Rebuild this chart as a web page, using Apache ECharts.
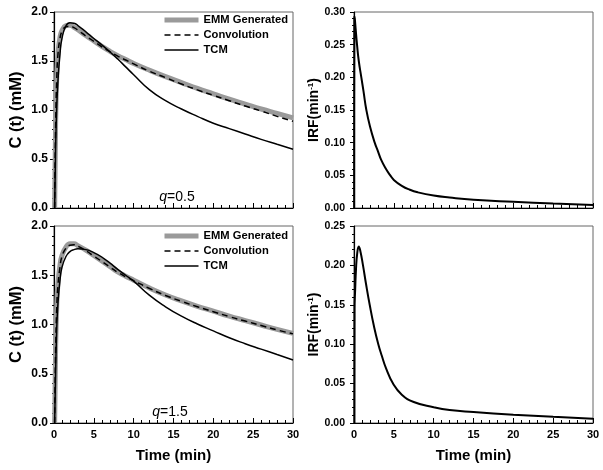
<!DOCTYPE html>
<html><head><meta charset="utf-8">
<script src="https://cdn.jsdelivr.net/npm/echarts@6/dist/echarts.min.js"></script>
<style>html,body{margin:0;padding:0;background:#fff}#c{width:603px;height:470px}</style>
</head><body><div id="c"></div>
<script>
// ---- data ----
const timeC = [0.08, 0.2, 0.35, 0.5, 0.75, 1, 1.5, 2, 2.5, 3, 4, 5, 6, 7, 8, 9, 10, 12, 14, 16, 18, 20, 22, 24, 26, 28, 30];
// q = 0.5 (top)
const emmQ05  = [0, 0.85, 1.35, 1.58, 1.74, 1.81, 1.86, 1.865, 1.845, 1.82, 1.76, 1.705, 1.65, 1.60, 1.555, 1.515, 1.475, 1.405, 1.34, 1.28, 1.22, 1.165, 1.11, 1.06, 1.01, 0.965, 0.92];
const convQ05 = [0, 0.82, 1.33, 1.57, 1.73, 1.80, 1.85, 1.855, 1.84, 1.815, 1.755, 1.70, 1.645, 1.595, 1.55, 1.51, 1.47, 1.395, 1.33, 1.265, 1.205, 1.15, 1.095, 1.04, 0.99, 0.935, 0.885];
const tcmQ05  = [0, 0.60, 1.05, 1.30, 1.57, 1.73, 1.86, 1.89, 1.885, 1.862, 1.797, 1.73, 1.665, 1.595, 1.52, 1.44, 1.36, 1.205, 1.095, 1.01, 0.935, 0.865, 0.81, 0.755, 0.70, 0.65, 0.60];
// q = 1.5 (bottom)
const emmQ15  = [0, 0.75, 1.20, 1.42, 1.60, 1.70, 1.785, 1.82, 1.82, 1.80, 1.755, 1.70, 1.645, 1.59, 1.535, 1.49, 1.45, 1.37, 1.30, 1.24, 1.185, 1.135, 1.085, 1.04, 0.995, 0.95, 0.91];
const convQ15 = [0, 0.72, 1.18, 1.40, 1.58, 1.69, 1.775, 1.805, 1.81, 1.795, 1.75, 1.695, 1.64, 1.585, 1.53, 1.485, 1.445, 1.365, 1.295, 1.235, 1.18, 1.13, 1.08, 1.035, 0.99, 0.945, 0.905];
const tcmQ15  = [0, 0.50, 0.98, 1.22, 1.45, 1.58, 1.69, 1.74, 1.76, 1.768, 1.76, 1.73, 1.685, 1.625, 1.56, 1.50, 1.44, 1.295, 1.18, 1.085, 1.005, 0.935, 0.865, 0.805, 0.75, 0.695, 0.64];
// impulse response functions
const timeIrfQ05 = [0.02, 0.05, 0.1, 0.2, 0.38, 0.6, 0.92, 1.2, 1.55, 2, 2.6, 3, 3.4, 4, 4.55, 5, 6, 7, 8, 10, 12, 15, 20, 25, 30];
const irfQ05     = [0, 0.293, 0.290, 0.275, 0.25, 0.225, 0.20, 0.178, 0.15, 0.125, 0.10, 0.087, 0.074, 0.06, 0.05, 0.043, 0.034, 0.028, 0.024, 0.019, 0.016, 0.0127, 0.0095, 0.0068, 0.0045];
const timeIrfQ15 = [0.05, 0.07, 0.15, 0.25, 0.4, 0.6, 0.8, 1.13, 1.5, 1.97, 2.5, 3.05, 3.5, 4, 4.9, 6, 7.5, 10, 12, 15, 20, 25, 30];
const irfQ15     = [0, 0.145, 0.17, 0.195, 0.215, 0.224, 0.218, 0.20, 0.177, 0.15, 0.123, 0.10, 0.085, 0.07, 0.05, 0.036, 0.0266, 0.020, 0.0165, 0.014, 0.0106, 0.0078, 0.0055];
// axes / labels
const seriesNames = ['EMM Generated', 'Convolution', 'TCM'];
const xRange = [0, 30], xStep = 5;
const cRange = [0, 2.0], cStep = 0.5;
const irfRangeQ05 = [0, 0.30], irfRangeQ15 = [0, 0.25], irfStep = 0.05;
const qLabels = ['0.5', '1.5'];

const FONT = 'Arial, "Liberation Sans", Helvetica, sans-serif';
const zip = (t, v) => t.map((x, i) => [x, v[i]]);

const grids = [
  {left: 54, top: 12, width: 239, height: 196},
  {left: 354, top: 12, width: 239, height: 196},
  {left: 54, top: 226, width: 239, height: 197},
  {left: 354, top: 226, width: 239, height: 197}
].map(g => Object.assign({show: true, borderColor: '#666', borderWidth: 1, backgroundColor: 'transparent'}, g));

const xAxes = [0, 1, 2, 3].map(i => ({
  gridIndex: i, type: 'value', min: xRange[0], max: xRange[1], interval: xStep,
  axisLine: {onZero: false, lineStyle: {color: '#000', width: 1.2}},
  axisTick: {inside: true, length: 5, lineStyle: {color: '#000', width: 1}},
  minorTick: {show: true, splitNumber: 5, length: 3, lineStyle: {color: '#000', width: 1}},
  splitLine: {show: false},
  axisLabel: {show: i >= 2, margin: 6, fontSize: 11, fontWeight: 'bold', fontFamily: FONT, color: '#000'},
  name: i >= 2 ? 'Time (min)' : '', nameLocation: 'middle', nameGap: 25,
  nameTextStyle: {fontSize: 15, fontWeight: 'bold', fontFamily: FONT, color: '#000'}
}));

function yAxis(i, range, step, dec, isIrf) {
  return {
    gridIndex: i, type: 'value', min: range[0], max: range[1], interval: step,
    axisLine: {onZero: false, lineStyle: {color: '#000', width: 1.2}},
    axisTick: {inside: false, length: 4, lineStyle: {color: '#000', width: 1}},
    minorTick: {show: true, splitNumber: 5, length: 2, lineStyle: {color: '#000', width: 1}},
    splitLine: {show: false},
    axisLabel: {margin: isIrf ? 9 : 6, fontSize: isIrf ? 10.5 : 12, fontWeight: 'bold', fontFamily: FONT, color: '#000',
      formatter: v => v.toFixed(dec)},
    name: isIrf ? '{a|IRF(min}{s|-1}{a|)}' : 'C (t) (mM)',
    nameLocation: 'middle', nameGap: isIrf ? 32 : 29,
    nameTextStyle: {fontSize: isIrf ? 14 : 16.5, fontWeight: 'bold', fontFamily: FONT, color: '#000',
      rich: {
        a: {fontSize: 14, fontWeight: 'bold', fontFamily: FONT, color: '#000'},
        s: {fontSize: 8, fontWeight: 'bold', fontFamily: FONT, color: '#000', verticalAlign: 'top'}
      }}
  };
}
const yAxes = [
  yAxis(0, cRange, cStep, 1, false),
  yAxis(1, irfRangeQ05, irfStep, 2, true),
  yAxis(2, cRange, cStep, 1, false),
  yAxis(3, irfRangeQ15, irfStep, 2, true)
];

const base = {type: 'line', symbol: 'none', showSymbol: false, smooth: 0.5, animation: false, silent: true};
function cSeries(idx, emm, conv, tcm) {
  return [
    Object.assign({}, base, {name: seriesNames[0], xAxisIndex: idx, yAxisIndex: idx, data: zip(timeC, emm),
      lineStyle: {color: '#9a9a9a', width: 5}, itemStyle: {color: '#9a9a9a'}}),
    Object.assign({}, base, {name: seriesNames[1], xAxisIndex: idx, yAxisIndex: idx, data: zip(timeC, conv),
      lineStyle: {color: '#000', width: 1.5, type: [6, 4]}, itemStyle: {color: '#000'}}),
    Object.assign({}, base, {name: seriesNames[2], xAxisIndex: idx, yAxisIndex: idx, data: zip(timeC, tcm),
      lineStyle: {color: '#000', width: 1.5}, itemStyle: {color: '#000'}})
  ];
}
const series = [
  ...cSeries(0, emmQ05, convQ05, tcmQ05),
  ...cSeries(2, emmQ15, convQ15, tcmQ15),
  Object.assign({}, base, {name: 'IRF q05', xAxisIndex: 1, yAxisIndex: 1, data: zip(timeIrfQ05, irfQ05),
    lineStyle: {color: '#000', width: 2}, itemStyle: {color: '#000'}}),
  Object.assign({}, base, {name: 'IRF q15', xAxisIndex: 3, yAxisIndex: 3, data: zip(timeIrfQ15, irfQ15),
    lineStyle: {color: '#000', width: 2}, itemStyle: {color: '#000'}})
];

const legendData = [
  {name: seriesNames[0], lineStyle: {width: 5, color: '#9a9a9a'}},
  {name: seriesNames[1], lineStyle: {width: 1.5, color: '#000', type: [6, 4]}},
  {name: seriesNames[2], lineStyle: {width: 1.5, color: '#000'}}
];
const legendBase = {
  data: legendData, orient: 'vertical', left: 162, itemWidth: 34, itemHeight: 14, itemGap: 1,
  selectedMode: false, padding: 0,
  itemStyle: {opacity: 0, borderWidth: 0},
  textStyle: {fontSize: 11.2, fontWeight: 'bold', fontFamily: FONT, color: '#000', lineHeight: 14}
};

const qText = (x, y, q) => ({
  type: 'text', x: x, y: y, silent: true,
  style: {
    text: '{q|q}{n|=' + q + '}', align: 'center', verticalAlign: 'middle',
    rich: {
      q: {fontSize: 14, fontStyle: 'italic', fontFamily: FONT, fill: '#000', color: '#000'},
      n: {fontSize: 14, fontFamily: FONT, fill: '#000', color: '#000'}
    }
  }
});

const chart = echarts.init(document.getElementById('c'), null, {renderer: 'canvas'});
chart.setOption({
  backgroundColor: '#fff',
  animation: false,
  grid: grids,
  xAxis: xAxes,
  yAxis: yAxes,
  legend: [Object.assign({}, legendBase, {top: 13}), Object.assign({}, legendBase, {top: 229})],
  series: series,
  graphic: [qText(177, 197, qLabels[0]), qText(170, 412, qLabels[1])]
});
</script>
</body></html>
